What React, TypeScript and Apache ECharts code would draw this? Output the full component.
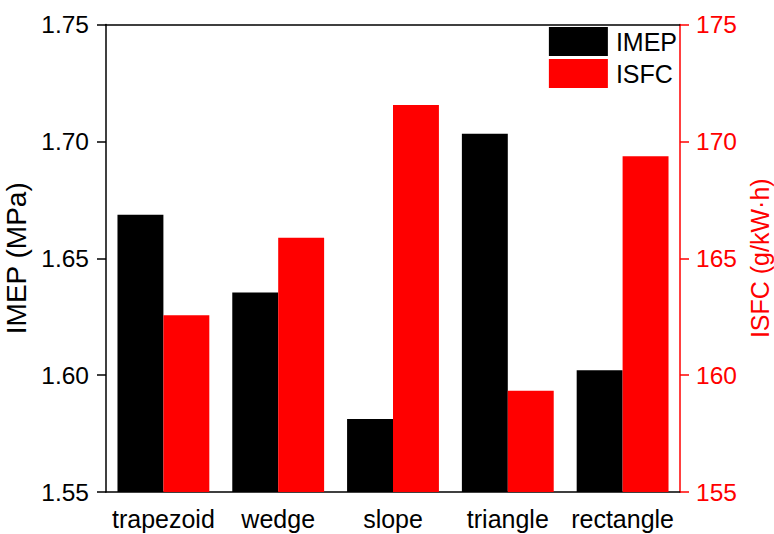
import React, { useEffect, useRef } from "react";
import * as echarts from "echarts";

const categories = ["trapezoid", "wedge", "slope", "triangle", "rectangle"];
const imepValues = [1.6686, 1.6353, 1.5812, 1.7033, 1.6021];
const isfcValues = [162.56, 165.88, 171.56, 159.33, 169.36];

const FONT = "Liberation Sans, Arial, sans-serif";

export default function App() {
  const ref = useRef<HTMLDivElement>(null);
  useEffect(() => {
    if (!ref.current) return;
    const chart = echarts.init(ref.current, null, { renderer: "svg" });
    chart.setOption({
      animation: false,
      backgroundColor: "#fff",
      grid: {
        left: 106,
        right: 94,
        top: 24.5,
        bottom: 42,
        containLabel: false,
        outerBoundsMode: "none",
      },
      legend: {
        right: 92,
        top: 22,
        orient: "vertical",
        itemWidth: 59,
        itemHeight: 29,
        itemGap: 3,
        icon: "rect",
        textStyle: { fontFamily: FONT, fontSize: 25, color: "#000", padding: [0, 0, 0, 3] },
        data: ["IMEP", "ISFC"],
      },
      xAxis: [
        {
          type: "category",
          data: categories,
          position: "bottom",
          axisLine: { lineStyle: { color: "#000", width: 1.5 } },
          axisTick: { alignWithLabel: true, length: 8, lineStyle: { color: "#000", width: 1.5 } },
          axisLabel: { fontFamily: FONT, fontSize: 25, color: "#000", margin: 14, interval: 0 },
        },
        {
          type: "category",
          data: categories,
          position: "top",
          axisLine: { lineStyle: { color: "#000", width: 1.5 } },
          axisTick: { show: false },
          axisLabel: { show: false },
        },
      ],
      yAxis: [
        {
          type: "value",
          min: 1.55,
          max: 1.75,
          interval: 0.05,
          name: "IMEP (MPa)",
          nameLocation: "middle",
          nameGap: 76,
          nameTextStyle: { fontFamily: FONT, fontSize: 28, color: "#000" },
          axisLine: { show: true, lineStyle: { color: "#000", width: 1.5 } },
          axisTick: { show: true, length: 9, lineStyle: { color: "#000", width: 1.5 } },
          axisLabel: {
            fontFamily: FONT,
            fontSize: 24.5,
            color: "#000",
            margin: 17,
            formatter: (v: number) => v.toFixed(2),
          },
          splitLine: { show: false },
        },
        {
          type: "value",
          min: 155,
          max: 175,
          interval: 5,
          name: "ISFC (g/kW·h)",
          nameLocation: "middle",
          nameGap: 64,
          nameRotate: 90,
          nameTextStyle: { fontFamily: FONT, fontSize: 25, color: "#ff0000" },
          axisLine: { show: true, lineStyle: { color: "#ff0000", width: 1.5 } },
          axisTick: { show: true, length: 9, lineStyle: { color: "#ff0000", width: 1.5 } },
          axisLabel: { fontFamily: FONT, fontSize: 24.5, color: "#ff0000", margin: 16 },
          splitLine: { show: false },
        },
      ],
      series: [
        {
          name: "IMEP",
          type: "bar",
          xAxisIndex: 0,
          yAxisIndex: 0,
          data: imepValues,
          barCategoryGap: "20%",
          barGap: "0%",
          itemStyle: { color: "#000" },
        },
        {
          name: "ISFC",
          type: "bar",
          xAxisIndex: 0,
          yAxisIndex: 1,
          data: isfcValues,
          barCategoryGap: "20%",
          barGap: "0%",
          itemStyle: { color: "#ff0000" },
        },
      ],
    });
    return () => chart.dispose();
  }, []);
  return <div ref={ref} style={{ width: 774, height: 534, position: "absolute", left: 0, top: 0 }} />;
}
